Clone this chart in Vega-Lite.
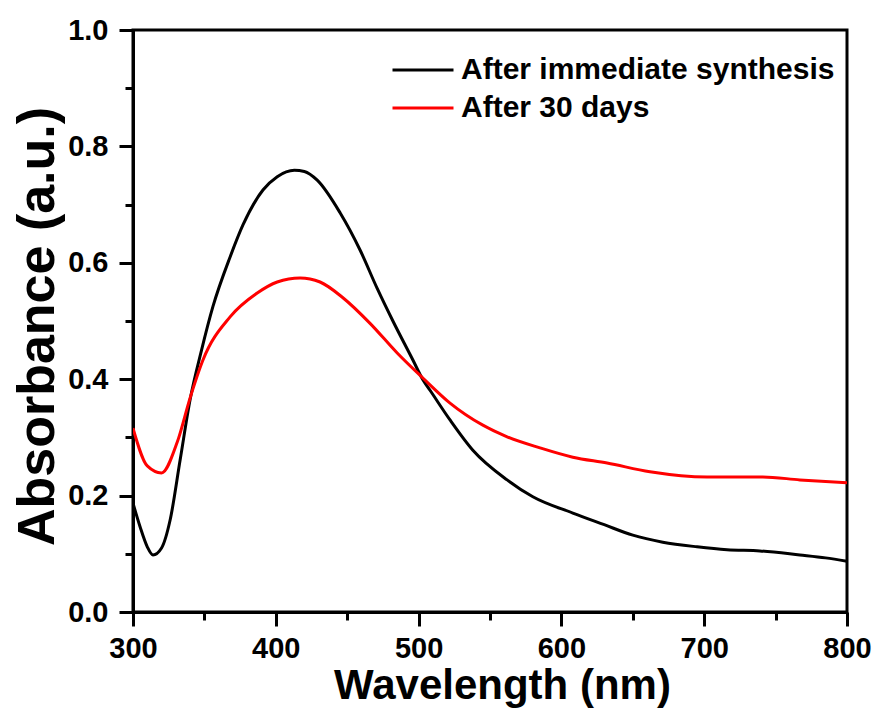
{
  "$schema": "https://vega.github.io/schema/vega-lite/v6.json",
  "width": 714,
  "height": 582,
  "autosize": {"type": "none"},
  "padding": {"left": 133, "top": 30, "right": 27, "bottom": 97},
  "background": "white",
  "config": {
    "view": {"stroke": "black", "strokeWidth": 3},
    "font": "Liberation Sans",
    "axis": {
      "domainColor": "black", "domainWidth": 3,
      "tickColor": "black", "tickWidth": 3,
      "labelFont": "Liberation Sans", "labelFontWeight": "bold", "labelFontSize": 29, "labelColor": "black",
      "titleFont": "Liberation Sans", "titleFontWeight": "bold", "titleColor": "black",
      "grid": false
    }
  },
  "data": {"values": [
    {"w": 300, "A": 0.187, "s": "After immediate synthesis"},
    {"w": 305, "A": 0.146, "s": "After immediate synthesis"},
    {"w": 310, "A": 0.112, "s": "After immediate synthesis"},
    {"w": 314, "A": 0.098, "s": "After immediate synthesis"},
    {"w": 320, "A": 0.110, "s": "After immediate synthesis"},
    {"w": 326, "A": 0.158, "s": "After immediate synthesis"},
    {"w": 333, "A": 0.261, "s": "After immediate synthesis"},
    {"w": 340, "A": 0.365, "s": "After immediate synthesis"},
    {"w": 348, "A": 0.450, "s": "After immediate synthesis"},
    {"w": 356, "A": 0.525, "s": "After immediate synthesis"},
    {"w": 368, "A": 0.610, "s": "After immediate synthesis"},
    {"w": 377, "A": 0.665, "s": "After immediate synthesis"},
    {"w": 391, "A": 0.725, "s": "After immediate synthesis"},
    {"w": 401, "A": 0.748, "s": "After immediate synthesis"},
    {"w": 413, "A": 0.759, "s": "After immediate synthesis"},
    {"w": 420, "A": 0.757, "s": "After immediate synthesis"},
    {"w": 429, "A": 0.742, "s": "After immediate synthesis"},
    {"w": 445, "A": 0.686, "s": "After immediate synthesis"},
    {"w": 459, "A": 0.622, "s": "After immediate synthesis"},
    {"w": 471, "A": 0.556, "s": "After immediate synthesis"},
    {"w": 482, "A": 0.500, "s": "After immediate synthesis"},
    {"w": 496, "A": 0.433, "s": "After immediate synthesis"},
    {"w": 503, "A": 0.399, "s": "After immediate synthesis"},
    {"w": 508, "A": 0.381, "s": "After immediate synthesis"},
    {"w": 522, "A": 0.330, "s": "After immediate synthesis"},
    {"w": 538, "A": 0.278, "s": "After immediate synthesis"},
    {"w": 562, "A": 0.227, "s": "After immediate synthesis"},
    {"w": 580, "A": 0.198, "s": "After immediate synthesis"},
    {"w": 608, "A": 0.170, "s": "After immediate synthesis"},
    {"w": 630, "A": 0.150, "s": "After immediate synthesis"},
    {"w": 650, "A": 0.132, "s": "After immediate synthesis"},
    {"w": 671, "A": 0.120, "s": "After immediate synthesis"},
    {"w": 695, "A": 0.112, "s": "After immediate synthesis"},
    {"w": 716, "A": 0.107, "s": "After immediate synthesis"},
    {"w": 739, "A": 0.105, "s": "After immediate synthesis"},
    {"w": 767, "A": 0.098, "s": "After immediate synthesis"},
    {"w": 785, "A": 0.093, "s": "After immediate synthesis"},
    {"w": 800, "A": 0.087, "s": "After immediate synthesis"},
    {"w": 300, "A": 0.316, "s": "After 30 days"},
    {"w": 310, "A": 0.251, "s": "After 30 days"},
    {"w": 320, "A": 0.239, "s": "After 30 days"},
    {"w": 331, "A": 0.292, "s": "After 30 days"},
    {"w": 340, "A": 0.368, "s": "After 30 days"},
    {"w": 349, "A": 0.433, "s": "After 30 days"},
    {"w": 368, "A": 0.507, "s": "After 30 days"},
    {"w": 387, "A": 0.548, "s": "After 30 days"},
    {"w": 401, "A": 0.567, "s": "After 30 days"},
    {"w": 417, "A": 0.574, "s": "After 30 days"},
    {"w": 431, "A": 0.567, "s": "After 30 days"},
    {"w": 447, "A": 0.540, "s": "After 30 days"},
    {"w": 466, "A": 0.496, "s": "After 30 days"},
    {"w": 485, "A": 0.445, "s": "After 30 days"},
    {"w": 503, "A": 0.402, "s": "After 30 days"},
    {"w": 522, "A": 0.359, "s": "After 30 days"},
    {"w": 545, "A": 0.321, "s": "After 30 days"},
    {"w": 562, "A": 0.301, "s": "After 30 days"},
    {"w": 585, "A": 0.282, "s": "After 30 days"},
    {"w": 608, "A": 0.266, "s": "After 30 days"},
    {"w": 632, "A": 0.256, "s": "After 30 days"},
    {"w": 662, "A": 0.241, "s": "After 30 days"},
    {"w": 702, "A": 0.232, "s": "After 30 days"},
    {"w": 741, "A": 0.232, "s": "After 30 days"},
    {"w": 767, "A": 0.227, "s": "After 30 days"},
    {"w": 800, "A": 0.222, "s": "After 30 days"}
  ]},
  "mark": {"type": "line", "strokeWidth": 3, "interpolate": "monotone", "clip": true},
  "encoding": {
    "x": {
      "field": "w", "type": "quantitative",
      "scale": {"domain": [300, 800], "nice": false, "zero": false},
      "axis": {
        "title": "Wavelength (nm)", "titleFontSize": 42,
        "titleBaseline": "alphabetic", "titleY": 86, "titleX": 369,
        "values": [300, 350, 400, 450, 500, 550, 600, 650, 700, 750, 800],
        "labelExpr": "datum.value % 100 === 0 ? datum.label : ''",
        "tickSize": {"condition": {"test": "datum.value % 100 === 0", "value": 14}, "value": 8},
        "labelPadding": 8, "labelFlush": false, "labelOverlap": false
      }
    },
    "y": {
      "field": "A", "type": "quantitative",
      "scale": {"domain": [0, 1], "nice": false},
      "axis": {
        "title": "Absorbance (a.u.)", "titleFontSize": 52,
        "titleBaseline": "alphabetic", "titleX": -80, "titleY": 296, "titleAngle": -90,
        "values": [0, 0.1, 0.2, 0.3, 0.4, 0.5, 0.6, 0.7, 0.8, 0.9, 1.0],
        "format": ".1f",
        "labelExpr": "round(datum.value * 10) % 2 === 0 ? datum.label : ''",
        "tickSize": {"condition": {"test": "round(datum.value * 10) % 2 === 0", "value": 14}, "value": 8},
        "labelPadding": 11, "labelFlush": false, "labelOverlap": false
      }
    },
    "color": {
      "field": "s", "type": "nominal",
      "scale": {"domain": ["After immediate synthesis", "After 30 days"], "range": ["#000000", "#ff0000"]},
      "legend": {
        "title": null, "orient": "none", "legendX": 258, "legendY": 22,
        "symbolType": "stroke", "symbolSize": 3721, "symbolStrokeWidth": 3,
        "labelFont": "Liberation Sans", "labelFontWeight": "bold", "labelFontSize": 30, "labelColor": "black",
        "labelOffset": 6, "rowPadding": 2, "clipHeight": 36, "labelLimit": 600
      }
    }
  }
}
